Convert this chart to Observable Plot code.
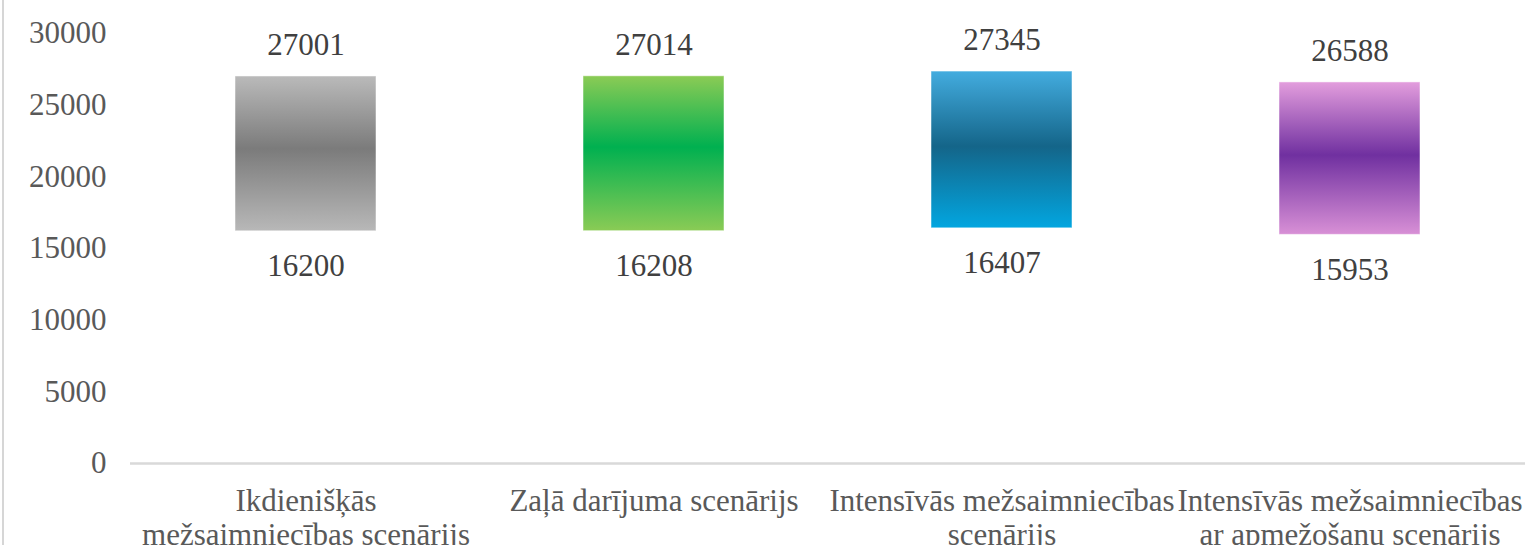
<!DOCTYPE html>
<html>
<head>
<meta charset="utf-8">
<script src="https://cdn.jsdelivr.net/npm/d3@7"></script>
<script src="https://cdn.jsdelivr.net/npm/@observablehq/plot@0.6"></script>
<style>
  html, body { margin: 0; padding: 0; background: #fff; }
  #wrap { position: relative; width: 1525px; height: 545px; overflow: hidden; }
  #edge { position: absolute; left: 2px; top: 0; width: 2px; height: 545px; background: #d6d6d6; }
</style>
</head>
<body>
<div id="wrap"><div id="edge"></div></div>
<script>
const categories = [
  "Ikdienišķās\nmežsaimniecības scenārijs",
  "Zaļā darījuma scenārijs",
  "Intensīvās mežsaimniecības\nscenārijs",
  "Intensīvās mežsaimniecības\nar apmežošanu scenārijs"
];
const lowValues = [16200, 16208, 16407, 15953];
const highValues = [27001, 27014, 27345, 26588];
const yTicks = [0, 5000, 10000, 15000, 20000, 25000, 30000];

const gradients = [
  [["0%", "#bababa"], ["47%", "#7b7b7b"], ["100%", "#b8b8b8"]],
  [["0%", "#8bcb55"], ["46%", "#00b050"], ["100%", "#8acb55"]],
  [["0%", "#43acdf"], ["48%", "#146589"], ["100%", "#02a6e0"]],
  [["0%", "#e39ddd"], ["48%", "#7030a0"], ["100%", "#d890d6"]]
];

const FONT = "Liberation Serif";
const FS = 31;

const data = categories.map((c, i) => ({
  cat: c, low: lowValues[i], high: highValues[i], paint: `url(#grad${i})`
}));

const chart = Plot.plot({
  width: 1525,
  height: 545,
  marginLeft: 130,
  marginRight: 0,
  marginTop: 33,
  marginBottom: 82,
  style: { fontFamily: FONT, fontSize: FS + "px", color: "#595959", background: "transparent" },
  x: { domain: categories, paddingInner: 0.595, paddingOuter: 0.3, axis: null },
  y: { domain: [0, 30000] },
  color: { type: "identity" },
  marks: [
    Plot.axisY({ ticks: yTicks, tickSize: 0, tickPadding: 24, tickFormat: d => String(d), fill: "#595959", fontSize: FS, fontFamily: FONT }),
    Plot.ruleY([0], { stroke: "#d9d9d9", strokeWidth: 2.5 }),
    Plot.barY(data, { x: "cat", y1: "low", y2: "high", fill: "paint", stroke: "#ffffff", strokeOpacity: 0.5, strokeWidth: 1 }),
    Plot.text(data, { x: "cat", y: "high", text: d => String(d.high), dy: -31, fill: "#404040", fontSize: FS, fontFamily: FONT }),
    Plot.text(data, { x: "cat", y: "low", text: d => String(d.low), dy: 35, fill: "#404040", fontSize: FS, fontFamily: FONT }),
    Plot.text(data, { x: "cat", frameAnchor: "bottom", text: "cat", lineAnchor: "top", dy: 23, lineHeight: 1.1, fill: "#595959", fontSize: FS, fontFamily: FONT })
  ]
});

const ns = "http://www.w3.org/2000/svg";
const defs = document.createElementNS(ns, "defs");
gradients.forEach((stops, i) => {
  const g = document.createElementNS(ns, "linearGradient");
  g.setAttribute("id", `grad${i}`);
  g.setAttribute("x1", "0"); g.setAttribute("y1", "0");
  g.setAttribute("x2", "0"); g.setAttribute("y2", "1");
  stops.forEach(([o, c]) => {
    const s = document.createElementNS(ns, "stop");
    s.setAttribute("offset", o);
    s.setAttribute("stop-color", c);
    g.appendChild(s);
  });
  defs.appendChild(g);
});
chart.insertBefore(defs, chart.firstChild);
chart.style.position = "absolute";
chart.style.left = "0";
chart.style.top = "0";
document.getElementById("wrap").appendChild(chart);
</script>
</body>
</html>
